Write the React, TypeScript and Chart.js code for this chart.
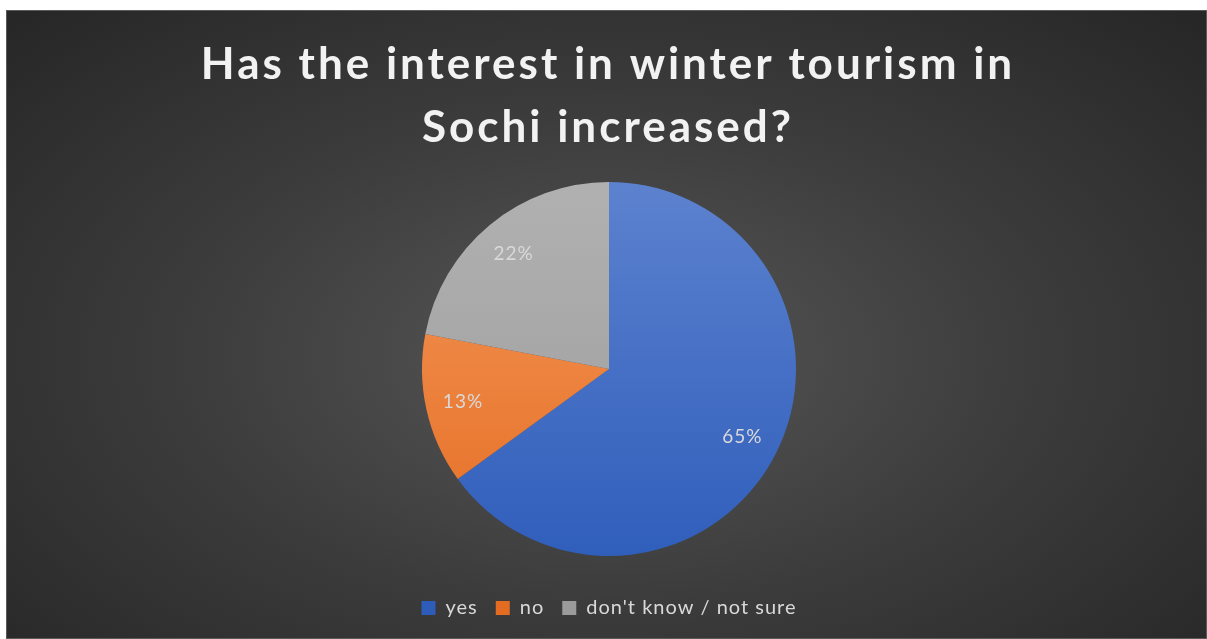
import React, { useEffect, useRef } from "react";
import { Chart, registerables } from "chart.js";

Chart.register(...registerables);

const categories = ["yes", "no", "don't know / not sure"];
const values = [65, 13, 22];
const titleLines = ["Has the interest in winter tourism in", "Sochi increased?"];

const gradStops: [string, string][] = [
  ["#5f84d0", "#2d5cba"],
  ["#f59a5c", "#e46c22"],
  ["#b2b2b2", "#9b9b9b"],
];
const solidColors = ["#4472c4", "#ed7d31", "#a5a5a5"];

const spacingPlugin = {
  id: "spacing",
  beforeLayout(chart: any) {
    chart.ctx.letterSpacing = "1px";
  },
  beforeDraw(chart: any) {
    chart.ctx.letterSpacing = "1px";
  },
};

const titlePlugin = {
  id: "customTitle",
  afterDraw(chart: any) {
    const ctx = chart.ctx;
    ctx.save();
    ctx.letterSpacing = "3px";
    ctx.font = "bold 44px Lato";
    ctx.fillStyle = "#f2f2f2";
    ctx.textAlign = "center";
    ctx.textBaseline = "alphabetic";
    const cx = chart.width / 2 + 1.5;
    ctx.fillText(titleLines[0], cx, 68);
    ctx.fillText(titleLines[1], cx, 131);
    ctx.restore();
  },
};

const labelPlugin = {
  id: "sliceLabels",
  afterDatasetsDraw(chart: any) {
    const ctx = chart.ctx;
    const meta = chart.getDatasetMeta(0);
    const total = values.reduce((a, b) => a + b, 0);
    ctx.save();
    ctx.letterSpacing = "1px";
    ctx.font = "19px Lato";
    ctx.fillStyle = "#d9d9d9";
    ctx.textAlign = "center";
    ctx.textBaseline = "middle";
    meta.data.forEach((arc: any, i: number) => {
      const { x, y, startAngle, endAngle, outerRadius } = arc.getProps(
        ["x", "y", "startAngle", "endAngle", "outerRadius"],
        true
      );
      const mid = (startAngle + endAngle) / 2;
      const r = outerRadius * 0.8;
      const pct = Math.round((values[i] / total) * 100) + "%";
      ctx.fillText(pct, x + Math.cos(mid) * r, y + Math.sin(mid) * r);
    });
    ctx.restore();
  },
};

export default function App() {
  const ref = useRef<HTMLCanvasElement | null>(null);
  useEffect(() => {
    if (!ref.current) return;
    const chart = new Chart(ref.current, {
      type: "pie",
      data: {
        labels: categories,
        datasets: [
          {
            data: values,
            borderWidth: 0,
            backgroundColor: (c: any) => {
              const i = c.dataIndex;
              const chart = c.chart;
              const area = chart.chartArea;
              if (!area || i === undefined) return solidColors[i ?? 0];
              const g = chart.ctx.createLinearGradient(0, area.top, 0, area.bottom);
              g.addColorStop(0, gradStops[i][0]);
              g.addColorStop(1, gradStops[i][1]);
              return g;
            },
          },
        ],
      },
      options: {
        animation: false,
        responsive: true,
        maintainAspectRatio: false,
        radius: 187,
        layout: { padding: { top: 147, bottom: 10, left: 5 } },
        plugins: {
          tooltip: { enabled: false },
          title: { display: false },
          legend: {
            position: "bottom",
            labels: {
              color: "#d9d9d9",
              font: { family: "Lato", size: 20 },
              boxWidth: 14,
              boxHeight: 14,
              padding: 18,
            },
          },
        },
      } as any,
      plugins: [spacingPlugin, labelPlugin, titlePlugin],
    });
    return () => chart.destroy();
  }, []);
  return (
    <div
      style={{
        position: "absolute",
        left: 6,
        top: 10,
        width: 1201,
        height: 629,
        boxSizing: "border-box",
        border: "1px solid #5a5a5a",
        background:
          "radial-gradient(ellipse farthest-corner at 50% 55%, #575757 0%, #3c3c3c 50%, #262626 100%)",
      }}
    >
      <canvas ref={ref} />
    </div>
  );
}
